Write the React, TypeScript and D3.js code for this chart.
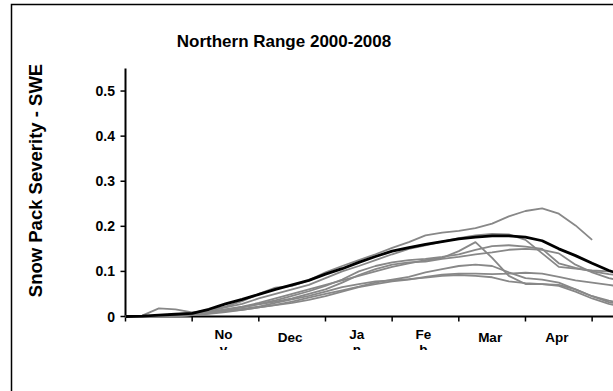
import React, { useEffect, useRef } from "react";
import * as d3 from "d3";

// x position of every sample, in months from the start of the season (Oct)
const months = [0, 0.25, 0.5, 0.75, 1, 1.25, 1.5, 1.75, 2, 2.25, 2.5, 2.75, 3, 3.25, 3.5, 3.75, 4, 4.25, 4.5, 4.75, 5, 5.25, 5.5, 5.75, 6, 6.25, 6.5, 6.75, 7, 7.25, 7.5];

// mean snow pack severity (black line)
const meanSwe = [0, 0.001, 0.003, 0.005, 0.007, 0.016, 0.028, 0.038, 0.049, 0.06, 0.07, 0.08, 0.094, 0.106, 0.12, 0.133, 0.145, 0.153, 0.16, 0.166, 0.172, 0.176, 0.179, 0.179, 0.176, 0.168, 0.15, 0.135, 0.118, 0.102, 0.09];

// single seasons (grey lines)
const season1 = [0, 0, 0.002, 0.005, 0.008, 0.015, 0.022, 0.034, 0.05, 0.064, 0.068, 0.08, 0.098, 0.112, 0.125, 0.138, 0.152, 0.165, 0.18, 0.186, 0.19, 0.196, 0.206, 0.222, 0.234, 0.24, 0.228, 0.202, 0.17, null, null];
const season2 = [0, 0, 0.001, 0.003, 0.006, 0.012, 0.02, 0.028, 0.04, 0.05, 0.06, 0.07, 0.085, 0.1, 0.112, 0.125, 0.138, 0.15, 0.158, 0.166, 0.174, 0.18, 0.183, 0.182, 0.17, 0.14, 0.11, 0.106, 0.102, 0.1, 0.098];
const season3 = [0, 0, 0, 0.002, 0.004, 0.01, 0.016, 0.022, 0.03, 0.04, 0.05, 0.06, 0.07, 0.08, 0.09, 0.1, 0.11, 0.118, 0.125, 0.13, 0.145, 0.165, 0.13, 0.09, 0.072, 0.072, 0.07, 0.06, 0.045, 0.035, 0.03];
const season4 = [0, 0, 0, 0.001, 0.003, 0.008, 0.014, 0.02, 0.028, 0.036, 0.046, 0.056, 0.068, 0.082, 0.1, 0.112, 0.12, 0.125, 0.128, 0.132, 0.138, 0.148, 0.156, 0.158, 0.155, 0.15, 0.118, 0.108, 0.1, 0.094, 0.09];
const season5 = [0, 0, 0, 0.002, 0.004, 0.009, 0.015, 0.021, 0.027, 0.033, 0.04, 0.05, 0.06, 0.075, 0.092, 0.105, 0.115, 0.12, 0.122, 0.128, 0.132, 0.138, 0.142, 0.148, 0.15, 0.148, 0.14, 0.115, 0.098, 0.085, 0.078];
const season6 = [0, 0, 0, 0.001, 0.003, 0.006, 0.01, 0.015, 0.02, 0.026, 0.033, 0.042, 0.05, 0.058, 0.066, 0.075, 0.082, 0.088, 0.098, 0.105, 0.112, 0.115, 0.112, 0.098, 0.085, 0.082, 0.075, 0.06, 0.045, 0.032, 0.025];
const season7 = [0, 0.002, 0.018, 0.016, 0.009, 0.01, 0.012, 0.015, 0.02, 0.025, 0.03, 0.037, 0.045, 0.055, 0.065, 0.072, 0.078, 0.082, 0.088, 0.093, 0.095, 0.095, 0.094, 0.095, 0.097, 0.095, 0.088, 0.08, 0.075, 0.07, 0.065];
const season8 = [0, 0, 0, 0.001, 0.003, 0.007, 0.012, 0.017, 0.022, 0.03, 0.038, 0.046, 0.055, 0.065, 0.072, 0.078, 0.08, 0.083, 0.086, 0.09, 0.092, 0.09, 0.087, 0.078, 0.074, 0.072, 0.068, 0.055, 0.04, 0.028, 0.02];
const seasons = [season1, season2, season3, season4, season5, season6, season7, season8];

// month labels, wrapped the way the original axis wraps them
const monthLabels = [[], ["No", "v"], ["Dec"], ["Ja", "n"], ["Fe", "b"], ["Mar"], ["Apr"]];
const yTicks = [0, 0.1, 0.2, 0.3, 0.4, 0.5];

const FONT = "'Liberation Sans', Arial, sans-serif";

export default function App() {
  const svgRef = useRef<SVGSVGElement>(null);

  useEffect(() => {
    const svg = d3.select(svgRef.current);
    svg.selectAll("*").remove();

    const x = d3.scaleLinear().domain([0, 8]).range([125.5, 658.8]);
    const y = d3.scaleLinear().domain([0, 0.55]).range([316.5, 68.5]);

    // chart frame (right and bottom run off the picture)
    svg.append("path")
      .attr("d", "M11.5,391 V4.5 H613")
      .attr("fill", "none")
      .attr("stroke", "#000")
      .attr("stroke-width", 1.5);

    svg.append("text")
      .attr("x", 284)
      .attr("y", 47)
      .attr("text-anchor", "middle")
      .attr("font-family", FONT)
      .attr("font-weight", "bold")
      .attr("font-size", 17)
      .text("Northern Range 2000-2008");

    svg.append("text")
      .attr("transform", "translate(42,180.5) rotate(-90)")
      .attr("text-anchor", "middle")
      .attr("font-family", FONT)
      .attr("font-weight", "bold")
      .attr("font-size", 18.5)
      .text("Snow Pack Severity - SWE");

    // y axis
    const gy = svg.append("g");
    gy.append("line")
      .attr("x1", x(0)).attr("x2", x(0))
      .attr("y1", y(0.55)).attr("y2", y(0))
      .attr("stroke", "#000").attr("stroke-width", 2);
    yTicks.forEach((t) => {
      gy.append("line")
        .attr("x1", x(0) - 5).attr("x2", x(0))
        .attr("y1", y(t)).attr("y2", y(t))
        .attr("stroke", "#000").attr("stroke-width", 1.5);
      gy.append("text")
        .attr("x", 115)
        .attr("y", y(t))
        .attr("dy", "0.36em")
        .attr("text-anchor", "end")
        .attr("font-family", FONT)
        .attr("font-weight", "bold")
        .attr("font-size", 14)
        .text(d3.format(".1~f")(t));
    });

    // x axis
    svg.append("clipPath").attr("id", "lblclip")
      .append("rect").attr("x", 0).attr("y", 0).attr("width", 700).attr("height", 350);

    const gx = svg.append("g");
    gx.append("line")
      .attr("x1", x(0)).attr("x2", x(8))
      .attr("y1", y(0)).attr("y2", y(0))
      .attr("stroke", "#000").attr("stroke-width", 2);
    d3.range(0, 8).forEach((m) => {
      gx.append("line")
        .attr("x1", x(m)).attr("x2", x(m))
        .attr("y1", y(0)).attr("y2", y(0) + 5)
        .attr("stroke", "#000").attr("stroke-width", 1.5);
    });
    const labels = gx.append("g").attr("clip-path", "url(#lblclip)");
    monthLabels.forEach((lines, i) => {
      if (!lines.length) return;
      const t = labels.append("text")
        .attr("text-anchor", "middle")
        .attr("font-family", FONT)
        .attr("font-weight", "bold")
        .attr("font-size", 13.5);
      const baseY = lines.length > 1 ? 338.5 : 341.5;
      lines.forEach((s, k) => {
        t.append("tspan")
          .attr("x", x(i + 0.5) - 2)
          .attr("y", baseY + k * 15.5)
          .text(s);
      });
    });

    // season lines
    const line = d3.line<number | null>()
      .defined((d) => d != null)
      .x((_, i) => x(months[i]))
      .y((d) => y(d as number));

    seasons.forEach((s) => {
      svg.append("path")
        .datum(s)
        .attr("fill", "none")
        .attr("stroke", "#888888")
        .attr("stroke-width", 1.8)
        .attr("stroke-linejoin", "round")
        .attr("d", line);
    });

    svg.append("path")
      .datum(meanSwe)
      .attr("fill", "none")
      .attr("stroke", "#000")
      .attr("stroke-width", 2.8)
      .attr("stroke-linejoin", "round")
      .attr("d", line);
  }, []);

  return (
    <svg
      ref={svgRef}
      width={613}
      height={391}
      style={{ position: "absolute", left: 0, top: 0, background: "#fff" }}
    />
  );
}
